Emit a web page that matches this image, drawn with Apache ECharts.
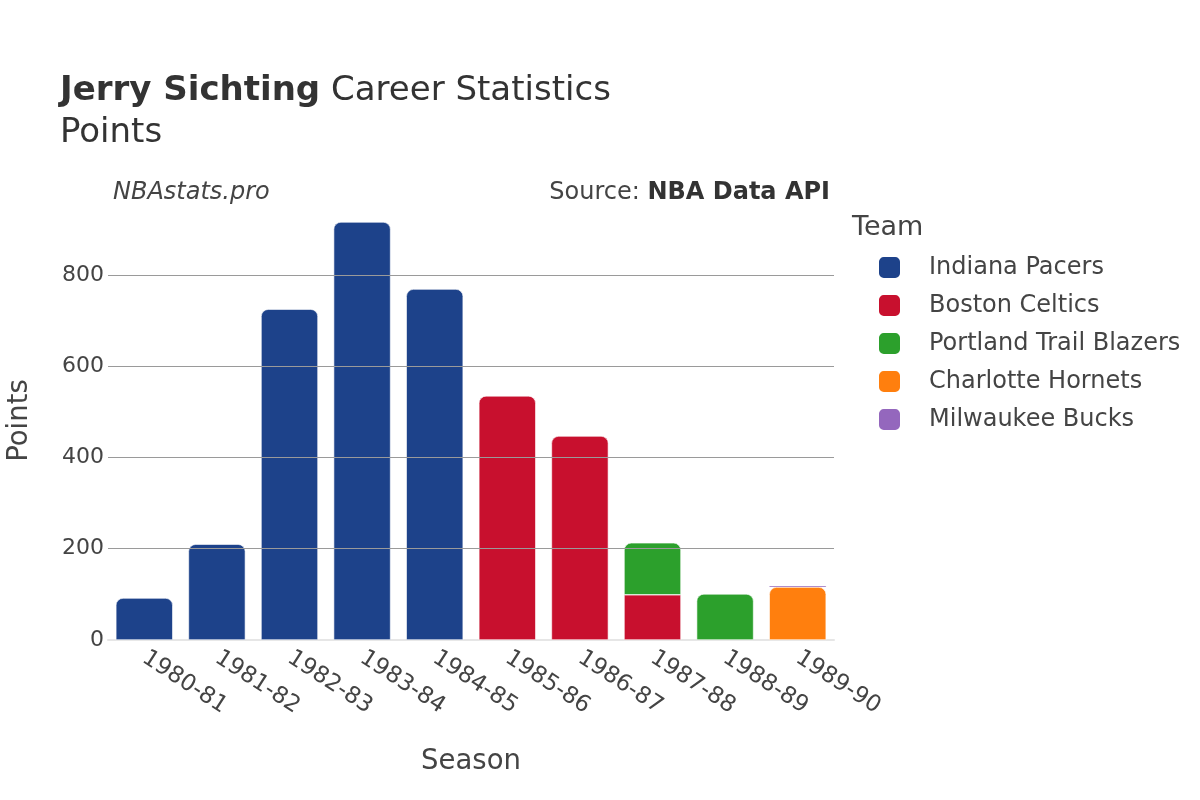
<!DOCTYPE html>
<html>
<head>
<meta charset="utf-8">
<script src="https://cdn.jsdelivr.net/npm/echarts@6/dist/echarts.min.js"></script>
<style>html,body{margin:0;padding:0;background:#fff}#c{width:1200px;height:800px}</style>
</head>
<body>
<div id="c"></div>
<script>
const seasons = ['1980-81','1981-82','1982-83','1983-84','1984-85','1985-86','1986-87','1987-88','1988-89','1989-90'];
const teams = ['Indiana Pacers','Boston Celtics','Portland Trail Blazers','Charlotte Hornets','Milwaukee Bucks'];
const teamColors = ['#1d428a','#c8102e','#2ca02c','#ff7f0e','#9467bd'];
const indianaPacers   = [92, 210, 725, 916, 769, null, null, null, null, null];
const bostonCeltics   = [null, null, null, null, null, 535, 447, 99, null, null];
const portlandBlazers = [null, null, null, null, null, null, null, 114, 101, null];
const charlotteHornets= [null, null, null, null, null, null, null, null, null, 116];
const milwaukeeBucks  = [null, null, null, null, null, null, null, null, null, 2];
const yTicks = [200, 400, 600, 800];

const seriesValues = [indianaPacers, bostonCeltics, portlandBlazers, charlotteHornets, milwaukeeBucks];
const FONT = 'DejaVu Sans';
const R = 7;

function aboveSum(si, ci) {
  let s = 0;
  for (let k = si + 1; k < seriesValues.length; k++) {
    const v = seriesValues[k][ci];
    if (v != null) s += v;
  }
  return s;
}

const series = seriesValues.map((vals, si) => ({
  name: teams[si],
  type: 'bar',
  stack: 'total',
  z: 3,
  barWidth: 57,
  itemStyle: { color: teamColors[si], borderColor: '#fff', borderWidth: 0.6 },
  data: vals.map((v, ci) => {
    if (v == null) return '-';
    const top = aboveSum(si, ci) < 5;
    const style = { borderRadius: top ? [R, R, 0, 0] : 0 };
    if (v < 5) style.borderWidth = 0;
    return { value: v, itemStyle: style };
  })
}));

series.push({
  type: 'line',
  data: [],
  z: 1,
  silent: true,
  markLine: {
    silent: true,
    symbol: 'none',
    label: { show: false },
    lineStyle: { color: '#9a9a9a', width: 1, type: 'solid' },
    data: yTicks.map(t => ({ yAxis: t }))
  }
});

const chart = echarts.init(document.getElementById('c'), null, { renderer: 'canvas' });
chart.setOption({
  animation: false,
  backgroundColor: '#fff',
  textStyle: { fontFamily: FONT },
  title: [
    {
      left: 60, top: 70, padding: 0,
      text: '{b|Jerry Sichting}{n| Career Statistics}\n{n|Points}',
      textStyle: {
        fontWeight: 'normal',
        rich: {
          b: { fontFamily: FONT, fontSize: 34, fontWeight: 'bold', color: '#333', lineHeight: 42 },
          n: { fontFamily: FONT, fontSize: 34, fontWeight: 'normal', color: '#333', lineHeight: 42 }
        }
      }
    },
    {
      left: 113, top: 181, padding: 0,
      text: 'NBAstats.pro',
      textStyle: { fontFamily: FONT, fontSize: 24, fontStyle: 'italic', fontWeight: 'normal', color: '#444' }
    },
    {
      right: 370, top: 181, padding: 0,
      text: 'Source: {b|NBA Data API}',
      textStyle: {
        fontFamily: FONT, fontSize: 24, fontWeight: 'normal', color: '#444',
        rich: { b: { fontFamily: FONT, fontSize: 24, fontWeight: 'bold', color: '#333' } }
      }
    },
    {
      left: 852, top: 214, padding: 0,
      text: 'Team',
      textStyle: { fontFamily: FONT, fontSize: 27, fontWeight: 'normal', color: '#444' }
    }
  ],
  legend: {
    orient: 'vertical',
    left: 877, top: 255, padding: 0,
    icon: 'roundRect',
    itemWidth: 23, itemHeight: 23,
    itemGap: 13,
    data: teams,
    textStyle: { fontFamily: FONT, fontSize: 24, color: '#444', padding: [0, 0, 0, 23] }
  },
  grid: { left: 108, right: 366, top: 201, bottom: 160, containLabel: false, outerBoundsMode: 'none' },
  xAxis: {
    type: 'category',
    data: seasons,
    name: 'Season',
    nameLocation: 'middle',
    nameGap: 108,
    nameTextStyle: { fontFamily: FONT, fontSize: 27.5, color: '#444' },
    axisTick: { show: false },
    axisLine: { show: true, lineStyle: { color: '#e6e6e6', width: 2 } },
    axisLabel: { rotate: -33, fontFamily: FONT, fontSize: 23, color: '#444', margin: 16, interval: 0 }
  },
  yAxis: {
    type: 'value',
    min: 0, max: 962, interval: 200,
    name: 'Points',
    nameLocation: 'middle',
    nameGap: 74,
    nameTextStyle: { fontFamily: FONT, fontSize: 27.5, color: '#444' },
    axisLine: { show: false },
    axisTick: { show: false },
    splitLine: { show: false },
    axisLabel: {
      fontFamily: FONT, fontSize: 22, color: '#444', margin: 4,
      showMaxLabel: false,
      formatter: v => (v % 200 === 0 ? String(v) : '')
    }
  },
  series: series
});
</script>
</body>
</html>
